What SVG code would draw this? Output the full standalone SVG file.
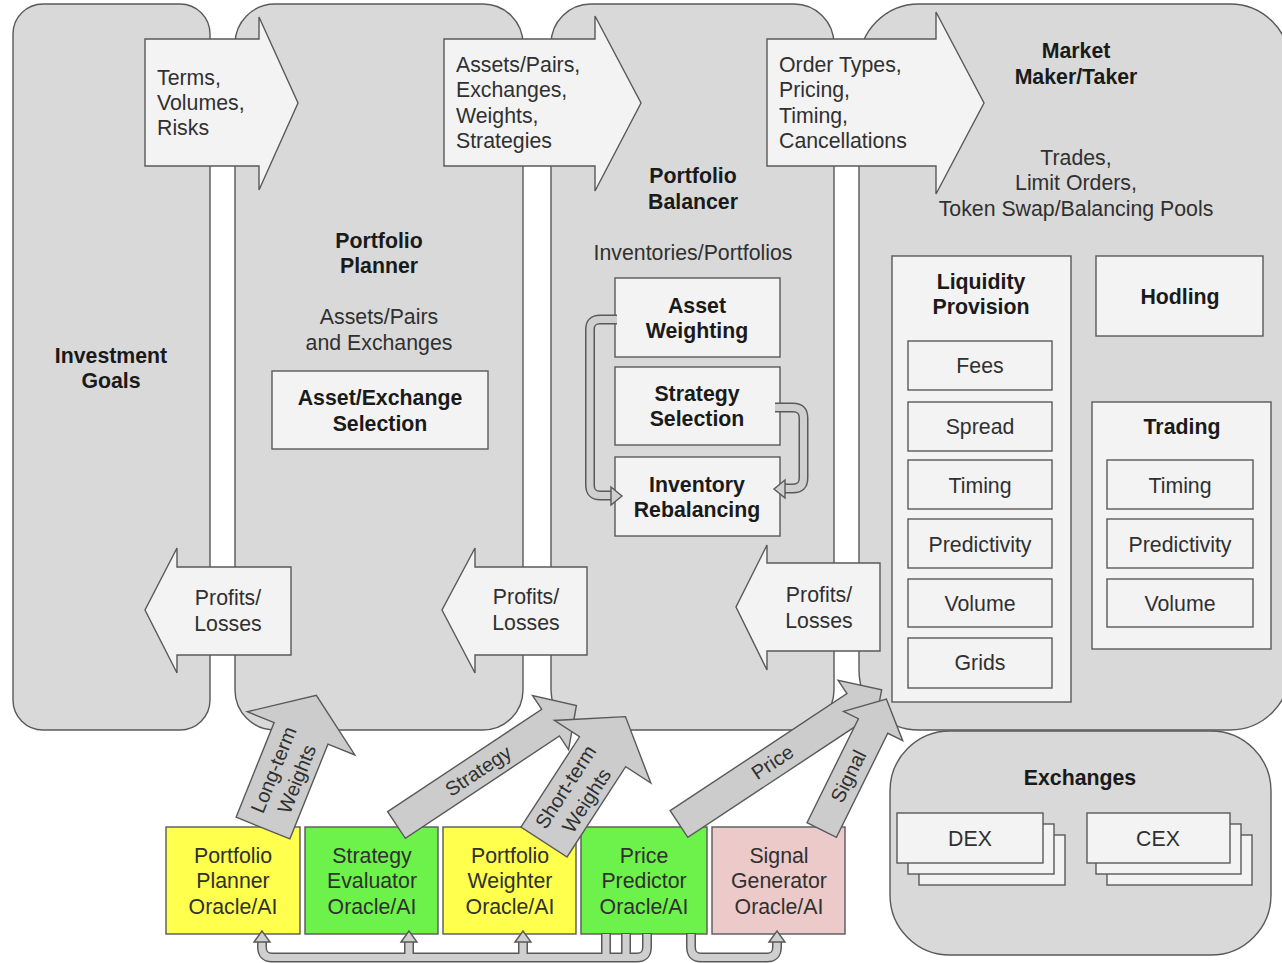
<svg xmlns="http://www.w3.org/2000/svg" width="1282" height="963" viewBox="0 0 1282 963">
<style>
.panel{fill:#d9d9d9;stroke:#595959;stroke-width:1.4}
.box{fill:#f3f3f3;stroke:#595959;stroke-width:1.4}
.arr{fill:#f3f3f3;stroke:#595959;stroke-width:1.4;stroke-linejoin:miter}
.darr{fill:#cccccc;stroke:#595959;stroke-width:1.4}
.yel{fill:#ffff4d;stroke:#595959;stroke-width:1.4}
.grn{fill:#6cf24a;stroke:#595959;stroke-width:1.4}
.pnk{fill:#eccaca;stroke:#595959;stroke-width:1.4}
text{font-family:"Liberation Sans",Arial,sans-serif;font-size:21.3px;fill:#303030}
.b{font-weight:bold;fill:#1a1a1a}
.c{text-anchor:middle}
.d{font-size:20px}
.bo{fill:none;stroke:#595959;stroke-width:10}
.bi{fill:none;stroke:#cfcfcf;stroke-width:7}
.ah{fill:#cfcfcf;stroke:#595959;stroke-width:1.4}
</style>
<rect width="1282" height="963" fill="#ffffff"/>

<g id="investment-goals">
<rect class="panel" x="13" y="4" width="197" height="726" rx="30"/>
<text class="b c" x="111" y="363">Investment</text>
<text class="b c" x="111" y="388">Goals</text>
</g>

<g id="portfolio-planner">
<rect class="panel" x="235" y="4" width="288" height="726" rx="40"/>
<text class="b c" x="379" y="248">Portfolio</text>
<text class="b c" x="379" y="273">Planner</text>
<text class="c" x="379" y="324">Assets/Pairs</text>
<text class="c" x="379" y="350">and Exchanges</text>
</g>

<g id="portfolio-balancer">
<rect class="panel" x="551" y="4" width="283" height="726" rx="40"/>
<text class="b c" x="693" y="183">Portfolio</text>
<text class="b c" x="693" y="209">Balancer</text>
<text class="c" x="693" y="260">Inventories/Portfolios</text>
</g>

<g id="market-maker">
<rect class="panel" x="859" y="4" width="431" height="726" rx="60"/>
<text class="b c" x="1076" y="58">Market</text>
<text class="b c" x="1076" y="84">Maker/Taker</text>
<text class="c" x="1076" y="165">Trades,</text>
<text class="c" x="1076" y="190">Limit Orders,</text>
<text class="c" x="1076" y="216">Token Swap/Balancing Pools</text>
</g>

<g id="exchanges">
<rect class="panel" x="890" y="731" width="381" height="224" rx="60"/>
<text class="b c" x="1080" y="785">Exchanges</text>
</g>

<g id="arrow-terms">
<polygon class="arr" points="145,39 259,39 259,17 298,103 259,190 259,166 145,166"/>
<text x="157" y="85">Terms,</text>
<text x="157" y="110">Volumes,</text>
<text x="157" y="135">Risks</text>
</g>
<g id="arrow-assets">
<polygon class="arr" points="444,39 595,39 595,16 641,103 595,191 595,166 444,166"/>
<text x="456" y="72">Assets/Pairs,</text>
<text x="456" y="97">Exchanges,</text>
<text x="456" y="123">Weights,</text>
<text x="456" y="148">Strategies</text>
</g>
<g id="arrow-orders">
<polygon class="arr" points="767,39 936,39 936,12 984,103 936,194 936,166 767,166"/>
<text x="779" y="72">Order Types,</text>
<text x="779" y="97">Pricing,</text>
<text x="779" y="123">Timing,</text>
<text x="779" y="148">Cancellations</text>
</g>

<g id="profits-1">
<polygon class="arr" points="291,567 177,567 177,548 145,610 177,673 177,655 291,655"/>
<text class="c" x="228" y="605">Profits/</text>
<text class="c" x="228" y="631">Losses</text>
</g>
<g id="profits-2">
<polygon class="arr" points="587,567 475,567 475,548 442,610 475,673 475,655 587,655"/>
<text class="c" x="526" y="604">Profits/</text>
<text class="c" x="526" y="630">Losses</text>
</g>
<g id="profits-3">
<polygon class="arr" points="880,563 767,563 767,545 736,607 767,670 767,651 880,651"/>
<text class="c" x="819" y="602">Profits/</text>
<text class="c" x="819" y="628">Losses</text>
</g>

<g id="asset-exchange-selection">
<rect class="box" x="272" y="371" width="216" height="78"/>
<text class="b c" x="380" y="405">Asset/Exchange</text>
<text class="b c" x="380" y="431">Selection</text>
</g>

<g id="asset-weighting">
<rect class="box" x="615" y="278" width="165" height="79"/>
<text class="b c" x="697" y="313">Asset</text>
<text class="b c" x="697" y="338">Weighting</text>
</g>
<g id="strategy-selection">
<rect class="box" x="615" y="367" width="165" height="78"/>
<text class="b c" x="697" y="401">Strategy</text>
<text class="b c" x="697" y="426">Selection</text>
</g>
<g id="inventory-rebalancing">
<rect class="box" x="615" y="457" width="165" height="79"/>
<text class="b c" x="697" y="492">Inventory</text>
<text class="b c" x="697" y="517">Rebalancing</text>
</g>

<g id="liquidity-provision">
<rect class="box" x="892" y="256" width="179" height="446"/>
<text class="b c" x="981" y="289">Liquidity</text>
<text class="b c" x="981" y="314">Provision</text>
<rect class="box" x="908" y="341" width="144" height="49"/>
<text class="c" x="980" y="373">Fees</text>
<rect class="box" x="908" y="402" width="144" height="49"/>
<text class="c" x="980" y="434">Spread</text>
<rect class="box" x="908" y="460" width="144" height="49"/>
<text class="c" x="980" y="493">Timing</text>
<rect class="box" x="908" y="519" width="144" height="49"/>
<text class="c" x="980" y="552">Predictivity</text>
<rect class="box" x="908" y="579" width="144" height="48"/>
<text class="c" x="980" y="611">Volume</text>
<rect class="box" x="908" y="638" width="144" height="50"/>
<text class="c" x="980" y="670">Grids</text>
</g>

<g id="hodling">
<rect class="box" x="1096" y="256" width="167" height="80"/>
<text class="b c" x="1180" y="304">Hodling</text>
</g>

<g id="trading">
<rect class="box" x="1092" y="402" width="179" height="247"/>
<text class="b c" x="1182" y="434">Trading</text>
<rect class="box" x="1107" y="460" width="146" height="49"/>
<text class="c" x="1180" y="493">Timing</text>
<rect class="box" x="1107" y="519" width="146" height="49"/>
<text class="c" x="1180" y="552">Predictivity</text>
<rect class="box" x="1107" y="579" width="146" height="48"/>
<text class="c" x="1180" y="611">Volume</text>
</g>

<g id="dex">
<rect class="box" x="919" y="835" width="146" height="50"/>
<rect class="box" x="908" y="824" width="146" height="50"/>
<rect class="box" x="897" y="813" width="146" height="50"/>
<text class="c" x="970" y="846">DEX</text>
</g>
<g id="cex">
<rect class="box" x="1107" y="835" width="145" height="50"/>
<rect class="box" x="1096" y="824" width="145" height="50"/>
<rect class="box" x="1087" y="813" width="143" height="50"/>
<text class="c" x="1158" y="846">CEX</text>
</g>

<g id="portfolio-planner-oracle">
<rect class="yel" x="166" y="827" width="134" height="107"/>
<text class="c" x="233" y="863">Portfolio</text>
<text class="c" x="233" y="888">Planner</text>
<text class="c" x="233" y="914">Oracle/AI</text>
</g>
<g id="strategy-evaluator-oracle">
<rect class="grn" x="305" y="827" width="133" height="107"/>
<text class="c" x="372" y="863">Strategy</text>
<text class="c" x="372" y="888">Evaluator</text>
<text class="c" x="372" y="914">Oracle/AI</text>
</g>
<g id="portfolio-weighter-oracle">
<rect class="yel" x="443" y="827" width="133" height="107"/>
<text class="c" x="510" y="863">Portfolio</text>
<text class="c" x="510" y="888">Weighter</text>
<text class="c" x="510" y="914">Oracle/AI</text>
</g>
<g id="price-predictor-oracle">
<rect class="grn" x="581" y="827" width="126" height="107"/>
<text class="c" x="644" y="863">Price</text>
<text class="c" x="644" y="888">Predictor</text>
<text class="c" x="644" y="914">Oracle/AI</text>
</g>
<g id="signal-generator-oracle">
<rect class="pnk" x="712" y="827" width="133" height="107"/>
<text class="c" x="779" y="863">Signal</text>
<text class="c" x="779" y="888">Generator</text>
<text class="c" x="779" y="914">Oracle/AI</text>
</g>

<g id="connectors">
<g transform="translate(263,828) rotate(-68.1)">
<polygon class="darr" points="0,-29 102,-29 102,-58 143,0 102,58 102,29 0,29"/>
<text class="c d" x="58" y="-5">Long-term</text>
<text class="c d" x="58" y="20">Weights</text>
</g>
<g transform="translate(396.5,825) rotate(-33.6)">
<polygon class="darr" points="0,-16 185,-16 185,-32.5 216,0 185,32.5 185,16 0,16"/>
<text class="c d" x="98" y="7">Strategy</text>
</g>
<g transform="translate(544,842) rotate(-57)">
<polygon class="darr" points="0,-27.5 107.6,-27.5 107.6,-57.5 149.5,0 107.6,57.5 107.6,27.5 0,27.5"/>
<text class="c d" x="58" y="-5">Short-term</text>
<text class="c d" x="58" y="20">Weights</text>
</g>
<g transform="translate(679,824) rotate(-33.5)">
<polygon class="darr" points="0,-16 212,-16 212,-32 243,0 212,32 212,16 0,16"/>
<text class="c d" x="112" y="7">Price</text>
</g>
<g transform="translate(821.7,830) rotate(-63.7)">
<polygon class="darr" points="0,-16.4 116,-16.4 116,-33 146,0 116,33 116,16.4 0,16.4"/>
<text class="c d" x="60" y="7">Signal</text>
</g>

<path class="bo" d="M617 319.5 H600 Q590 319.5 590 329.5 V485 Q590 495.5 600 495.5 H613"/>
<path class="bi" d="M617 319.5 H600 Q590 319.5 590 329.5 V485 Q590 495.5 600 495.5 H614"/>
<polygon class="ah" points="611,487 622,496 611,505"/>
<path class="bo" d="M775 407.5 H793 Q803.5 407.5 803.5 418 V478 Q803.5 488.5 793 488.5 H784"/>
<path class="bi" d="M775 407.5 H793 Q803.5 407.5 803.5 418 V478 Q803.5 488.5 793 488.5 H783"/>
<polygon class="ah" points="785,480 774,489 785,498"/>

<path class="bo" d="M262 941 V947 Q262 957.5 272 957.5 H637 Q647 957.5 647 947 V933 M409 957.5 V941 M523 957.5 V941 M606 957.5 V933 M626 957.5 V933 M691 933 V947 Q691 957.5 701 957.5 H767 Q777 957.5 777 947 V941"/>
<path class="bi" d="M262 940 V947 Q262 957.5 272 957.5 H637 Q647 957.5 647 947 V934 M409 957.5 V940 M523 957.5 V940 M606 957.5 V934 M626 957.5 V934 M691 934 V947 Q691 957.5 701 957.5 H767 Q777 957.5 777 947 V940"/>
<polygon class="ah" points="254,942 262,931 270,942"/>
<polygon class="ah" points="401,942 409,931 417,942"/>
<polygon class="ah" points="515,942 523,931 531,942"/>
<polygon class="ah" points="769,942 777,931 785,942"/>
</g>
</svg>
